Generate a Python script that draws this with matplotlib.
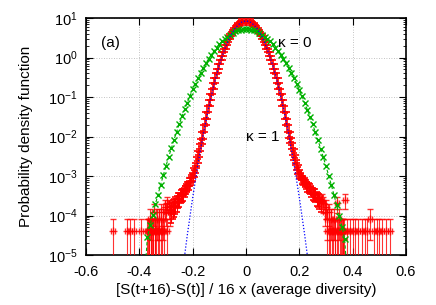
import numpy as np
import matplotlib
matplotlib.use('Agg')
import matplotlib.pyplot as plt
from matplotlib.ticker import FixedLocator, LogLocator, FuncFormatter, NullFormatter

plt.rcParams['font.family'] = ['Liberation Sans', 'DejaVu Sans']
plt.rcParams['mathtext.fontset'] = 'custom'
plt.rcParams['mathtext.rm'] = 'Liberation Sans'
plt.rcParams['mathtext.default'] = 'regular'
plt.rcParams['axes.unicode_minus'] = False

# kappa = 0 (green), log10 of pdf, bins -0.38 .. 0.38 step 0.01
green_log = [-5.6, -4.55, -4.25, -3.98, -3.72, -3.47, -3.22, -2.98, -2.74, -2.52,
             -2.30, -2.08, -1.88, -1.68, -1.49, -1.31, -1.14, -0.97, -0.81, -0.66,
             -0.52, -0.39, -0.26, -0.14, -0.03, 0.07, 0.16, 0.25, 0.33, 0.41,
             0.47, 0.53, 0.58, 0.62, 0.66, 0.69, 0.70, 0.72,
             0.72,
             0.72, 0.70, 0.69, 0.66, 0.62, 0.58, 0.53, 0.47, 0.41, 0.33,
             0.25, 0.16, 0.07, -0.04, -0.15, -0.27, -0.40, -0.53, -0.67, -0.82,
             -0.98, -1.15, -1.32, -1.50, -1.69, -1.89, -2.09, -2.31, -2.53, -2.75,
             -2.99, -3.23, -3.48, -3.74, -4.01, -4.28, -4.60, -5.6]
green_x = np.linspace(-0.38, 0.38, len(green_log))

# kappa = 1 (red), main band, bins -0.28 .. 0.28 step 0.005
red_log = [-3.85, -3.78, -3.75, -3.69, -3.66, -3.58, -3.57, -3.50, -3.47, -3.45,
           -3.37, -3.30, -3.26, -3.22, -3.14, -3.06, -3.02, -2.92, -2.80, -2.67,
           -2.52, -2.36, -2.20, -2.065, -1.886, -1.713, -1.545, -1.383, -1.226, -1.075,
           -0.929, -0.789, -0.654, -0.525, -0.401, -0.283, -0.170, -0.063, 0.039, 0.135,
           0.226, 0.311, 0.391, 0.465, 0.534, 0.597, 0.655, 0.707, 0.754, 0.795,
           0.831, 0.861, 0.886, 0.905, 0.919, 0.927,
           0.93,
           0.927, 0.919, 0.905, 0.886, 0.861, 0.831, 0.795, 0.754, 0.707, 0.655,
           0.597, 0.534, 0.465, 0.391, 0.311, 0.226, 0.135, 0.039, -0.063, -0.170,
           -0.283, -0.401, -0.525, -0.654, -0.789, -0.929, -1.075, -1.226, -1.383, -1.545,
           -1.713, -1.886, -2.03, -2.17, -2.32, -2.46, -2.60, -2.73, -2.85, -2.95,
           -3.01, -3.08, -3.11, -3.14, -3.21, -3.27, -3.29, -3.31, -3.37, -3.44,
           -3.45, -3.47, -3.55, -3.57, -3.60, -3.66]
red_x = np.linspace(-0.28, 0.28, len(red_log))

# kappa = 1 tails, in raw counts (one count = 10**one_count_log)
one_count_log = -4.38
tail_x = [-0.50, -0.445, -0.435, -0.42, -0.395,
          -0.3675, -0.37, -0.365, -0.3625, -0.36, -0.3575, -0.355, -0.3525, -0.35,
          -0.3475, -0.345, -0.3425, -0.34, -0.3375, -0.335, -0.33, -0.3275, -0.325,
          -0.32, -0.3175, -0.315, -0.31, -0.3075, -0.305, -0.30, -0.2975,
          -0.295, -0.29, -0.285,
          0.285, 0.29, 0.295, 0.30, 0.3025, 0.305, 0.31, 0.3125, 0.315, 0.32,
          0.3225, 0.325, 0.33, 0.3325, 0.335, 0.34, 0.3425, 0.345, 0.35, 0.3525,
          0.355, 0.36, 0.3625, 0.365, 0.3675, 0.37, 0.38, 0.39, 0.40,
          0.41, 0.42, 0.435, 0.445, 0.455, 0.465, 0.48, 0.49, 0.50, 0.51,
          0.525, 0.54]
tail_counts = [1, 1, 1, 1, 1,
               1, 1, 1, 1, 2, 1, 1, 1, 1,
               1, 3, 1, 1, 1, 2, 1, 1, 2,
               3, 1, 1, 2, 1, 4, 3, 1,
               5, 4, 3,
               6, 5, 3, 4, 1, 2, 3, 1, 1, 2,
               1, 1, 2, 1, 1, 5, 1, 1, 2, 1,
               1, 1, 1, 1, 1, 6, 1, 1, 1,
               1, 1, 1, 1, 1, 2, 1, 1, 1, 1,
               1, 1]

# Gaussian fit (blue dotted), log10 values at -0.24 .. 0.24 step 0.02
fit_log = [-5.52, -4.49, -3.55, -2.70, -1.94, -1.27, -0.68, -0.19, 0.21, 0.53, 0.75, 0.885,
           0.93,
           0.885, 0.75, 0.53, 0.21, -0.19, -0.68, -1.27, -1.94, -2.70, -3.55, -4.49, -5.52]
fit_x = np.linspace(-0.24, 0.24, len(fit_log))

x_ticks = [-0.6, -0.4, -0.2, 0, 0.2, 0.4, 0.6]

fig = plt.figure(figsize=(4.36, 3.05), dpi=100)
ax = fig.add_axes([86 / 436, 1 - 255 / 305, 320 / 436, 237 / 305])

one = 10 ** one_count_log
# red band: errors from counting statistics
red_vals = 10 ** np.array(red_log)
red_n = red_vals / one
red_err = np.sqrt(red_n) * one
ax.errorbar(red_x, red_vals, yerr=[np.minimum(red_err, red_vals - 1e-8), red_err],
            fmt='+', color='red', ms=7, mew=1.2, elinewidth=0.8, capsize=2, zorder=3)

tc = np.array(tail_counts, dtype=float)
tail_vals = tc * one
tail_err = np.sqrt(tc) * one
lower = np.minimum(tail_err, tail_vals - 1e-8)
ax.errorbar(tail_x, tail_vals, yerr=[lower, tail_err], xerr=0.008,
            fmt='+', color='red', ms=6, mew=1.0, elinewidth=0.8, capsize=2,
            alpha=0.8, zorder=3)

ax.plot(green_x, 10 ** np.array(green_log), color='#00b000', ls=(0, (3, 2)), lw=0.8,
        marker='x', ms=5, mew=1.0, zorder=4)

ax.plot(fit_x, 10 ** np.array(fit_log), color='blue', ls=(0, (1, 1.5)), lw=0.9, zorder=5)

ax.set_yscale('log')
ax.set_xlim(-0.6, 0.6)
ax.set_ylim(1e-5, 10)

ax.xaxis.set_major_locator(FixedLocator(x_ticks))
ax.xaxis.set_major_formatter(FuncFormatter(lambda v, p: '%g' % round(v, 2)))
ax.yaxis.set_major_locator(LogLocator(base=10, numticks=10))
ax.yaxis.set_minor_locator(LogLocator(base=10, subs=np.arange(2, 10), numticks=20))
ax.yaxis.set_minor_formatter(NullFormatter())
ax.yaxis.set_major_formatter(FuncFormatter(lambda v, p: r'$10^{%d}$' % round(np.log10(v))))

ax.tick_params(which='both', direction='in', top=True, right=True, labelsize=10.5)
ax.tick_params(which='major', length=5, width=0.8)
ax.tick_params(which='minor', length=2.5, width=0.6)
ax.tick_params(axis='x', pad=7)
ax.tick_params(axis='y', pad=6)

ax.grid(True, which='major', color='#b0b0b0', ls=(0, (1, 2)), lw=0.6)
for s in ax.spines.values():
    s.set_linewidth(1.2)

ax.text(-0.545, 10 ** 0.37, '(a)', fontsize=11, va='center', ha='left')
ax.text(0.12, 10 ** 0.37, 'κ = 0', fontsize=11, va='center', ha='left')
ax.text(0.0, 10 ** -2.0, 'κ = 1', fontsize=11, va='center', ha='left')

ax.set_xlabel('[S(t+16)-S(t)] / 16 x (average diversity)', fontsize=11)
ax.set_ylabel('Probability density function', fontsize=11)
ax.xaxis.set_label_coords(0.5, -0.12)
ax.yaxis.set_label_coords(-0.165, 0.5)

fig.savefig('out.png', dpi=100)
